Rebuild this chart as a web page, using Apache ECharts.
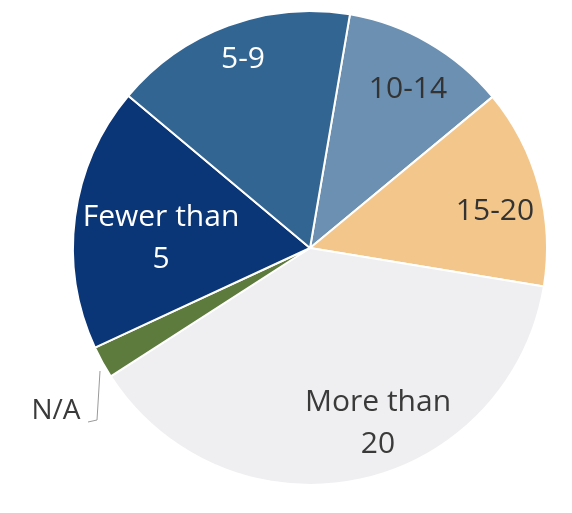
<!DOCTYPE html>
<html>
<head>
<meta charset="utf-8">
<script src="https://cdn.jsdelivr.net/npm/echarts@6/dist/echarts.min.js"></script>
<style>
  html, body { margin: 0; padding: 0; background: #fff; }
  #pieChart { width: 572px; height: 513px; }
</style>
</head>
<body>
<div id="pieChart"></div>
<script>
// 各组所占比例（顺时针，从 10-14 开始）
const categories = ['10-14', '15-20', 'More than 20', 'N/A', 'Fewer than 5', '5-9'];
const shares = [11.3, 13.6, 38.3, 2.2, 18.0, 16.6];
const sliceColors = ['#6b90b2', '#f3c78c', '#efeff1', '#5e7b3e', '#0a3577', '#336593'];
const textColors = ['#333333', '#333333', '#3a3a3a', '#3a3a3a', '#ffffff', '#ffffff'];

// 标签放置位置（像素）
const labelSpots = [[408, 89], [495, 211], [378, 423], [56, 411], [161, 238], [243, 59]];
const naLine = [[100, 371], [97, 420], [88, 422]];

const chart = echarts.init(document.getElementById('pieChart'));

chart.setOption({
  animation: false,
  series: [{
    type: 'pie',
    center: [310, 248],
    radius: [0, 237],
    startAngle: 80.3,
    clockwise: true,
    avoidLabelOverlap: false,
    itemStyle: {
      borderColor: '#ffffff',
      borderWidth: 2
    },
    label: {
      show: true,
      position: 'inside',
      fontFamily: 'Open Sans',
      fontSize: 30,
      lineHeight: 42,
      align: 'center',
      verticalAlign: 'middle',
      formatter: function (p) {
        return p.name.replace('than ', 'than\n');
      }
    },
    labelLine: { show: false },
    labelLayout: function (params) {
      const spot = labelSpots[params.dataIndex];
      const out = { x: spot[0], y: spot[1], align: 'center', verticalAlign: 'middle' };
      if (categories[params.dataIndex] === 'N/A') {
        out.labelLinePoints = naLine;
      }
      return out;
    },
    data: categories.map(function (name, i) {
      const item = {
        name: name,
        value: shares[i],
        itemStyle: { color: sliceColors[i] },
        label: { color: textColors[i] }
      };
      if (name === 'N/A') {
        item.label.position = 'outside';
        item.label.fontSize = 28;
        item.labelLine = { show: true, lineStyle: { color: '#9a9a9a', width: 1 } };
      }
      return item;
    })
  }]
});
</script>
</body>
</html>
